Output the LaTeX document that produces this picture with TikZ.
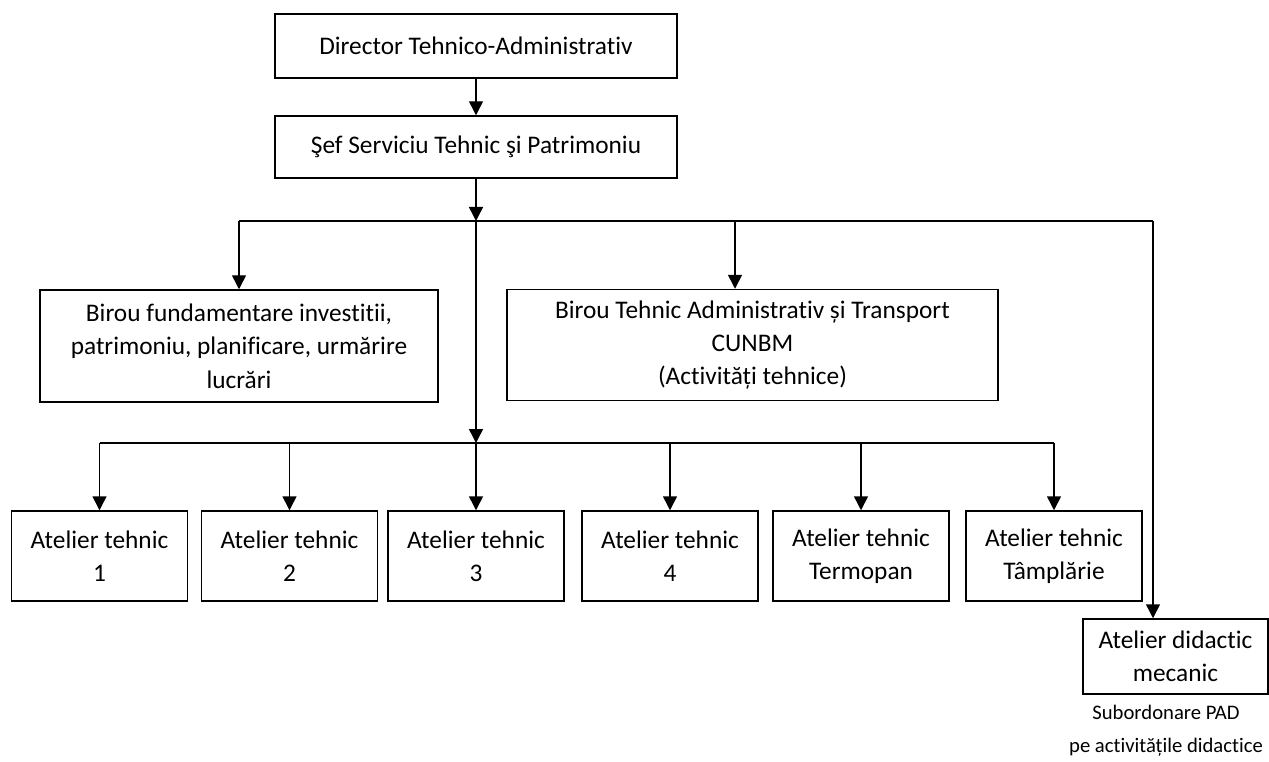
\documentclass[tikz,border=0pt]{standalone}
\usepackage{fontspec}
\setmainfont{Carlito}[Ligatures=NoCommon]
\usetikzlibrary{arrows.meta,positioning}

\begin{document}
\begin{tikzpicture}[
  x=0.75pt, y=-0.75pt,
  every node/.style={font=\fontsize{19}{25}\selectfont, align=center},
  unit/.style={draw, line width=1.1pt, inner sep=0pt},
  atelier/.style={unit, minimum width=132pt, minimum height=67.5pt},
  feed/.style={-{Triangle[length=10.5pt, width=10.5pt]}, line width=1.1pt},
  bus/.style={line width=1.1pt},
]

% ===== Frame: 1269 x 762 px, y grows downwards =====
\useasboundingbox (0,0) rectangle (1269,762);

%% ---- TOP: director and head of service ----
\node[unit, minimum width=301.5pt, minimum height=48pt] (dir) at (476,46)
  {Director Tehnico-Administrativ};
\node[unit, minimum width=301.5pt, minimum height=46.5pt] (sef) at (476,147)
  {Şef Serviciu Tehnic şi Patrimoniu};

%% ---- MIDDLE: the two offices ----
\node[unit, minimum width=298.5pt, minimum height=84pt] (bfi) at (239,346)
  {Birou fundamentare investitii,\\patrimoniu, planificare, urmărire\\lucrări};
\node[unit, minimum width=368.25pt, minimum height=83.25pt] (bta) at (752.5,345)
  {Birou Tehnic Administrativ și Transport\\CUNBM\\(Activități tehnice)};

%% ---- BOTTOM: workshops ----
\node[atelier] (at1) at (99.5,556) {Atelier tehnic\\1};
\node[atelier] (at2) at (289.5,556) {Atelier tehnic\\2};
\node[atelier] (at3) at (476,556) {Atelier tehnic\\3};
\node[atelier] (at4) at (670,556) {Atelier tehnic\\4};
\node[atelier] (at5) at (861,556) {Atelier tehnic\\Termopan};
\node[atelier] (at6) at (1054,556) {Atelier tehnic\\Tâmplărie};

% didactic workshop, lower right
\node[unit, minimum width=138.75pt, minimum height=56.25pt] (did) at (1175.5,656.5)
  {Atelier didactic\\mecanic};
\node[font=\fontsize{15.5}{25}\selectfont] (note) at (1166,731)
  {Subordonare PAD\\pe activitățile didactice};

%% ---- CONNECTORS ----
\coordinate (bus1) at (476,221);
\coordinate (bus2) at (476,443);
\coordinate (bus1e) at (1153,221);
\coordinate (btatap) at (735,221);

\draw[feed] (dir) -- (sef);
\draw[feed] (sef) -- (bus1);
\draw[feed] (bus1) -- (bus2);

% upper bus
\draw[bus] (bfi.north |- bus1) -- (bus1e);
\draw[feed] (bfi.north |- bus1) -- (bfi.north);
\draw[feed] (btatap) -- (btatap |- bta.north);
\draw[feed] (bus1e) -- (bus1e |- did.north);

% lower bus
\draw[bus] (at1.north |- bus2) -- (at6.north |- bus2);
\foreach \i in {1,...,6}
  \draw[feed] (at\i.north |- bus2) -- (at\i.north);

\end{tikzpicture}
\end{document}
